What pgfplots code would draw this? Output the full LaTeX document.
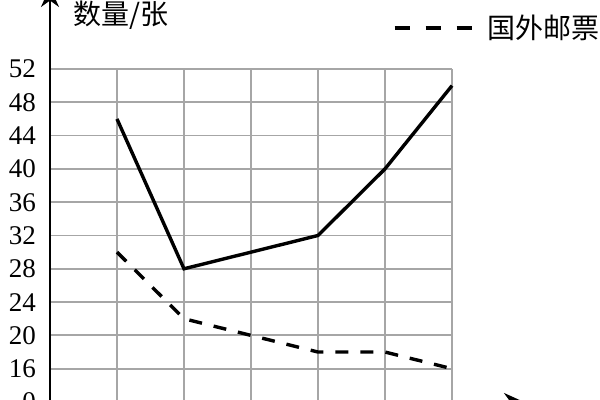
\documentclass[border=0pt]{standalone}
\usepackage{pgfplots}
\pgfplotsset{compat=1.18}
\usepackage{fontspec}
\setmainfont{Liberation Serif}
\newfontfamily\cjk{Noto Sans CJK SC}
\usetikzlibrary{arrows.meta}

\begin{document}
\begin{tikzpicture}
\begin{axis}[
  scale only axis,
  width=201pt, height=166.5pt,
  xmin=0, xmax=6, ymin=12, ymax=52,
  axis x line*=bottom,
  axis y line*=left,
  x axis line style={line width=1.2pt, -{Stealth[length=10pt,width=9pt]}, shorten >=-36pt},
  y axis line style={line width=1.2pt, -{Stealth[length=10pt,width=9pt]}, shorten >=-41pt},
  xtick={1,2,3,4,5,6},
  xticklabels={},
  ytick={12,16,20,24,28,32,36,40,44,48,52},
  yticklabels={0,16,20,24,28,32,36,40,44,48,52},
  major tick length=0pt,
  grid=major,
  grid style={gray!70, line width=0.9pt},
  /pgf/number format/assume math mode=true,
  tick label style={font=\fontsize{13.5pt}{15pt}\selectfont},
  yticklabel style={anchor=east, xshift=-3.5pt},
  ylabel={\cjk 数量/张},
  ylabel style={rotate=-90, at={(axis description cs:0.1766,1.162)}, anchor=center, font=\fontsize{14pt}{16pt}\selectfont},
  legend style={draw=none, fill=none, inner sep=0pt, outer sep=0pt,
    at={(axis description cs:0.853,1.123)}, anchor=west,
    font=\fontsize{14pt}{16pt}\selectfont\cjk,
    /tikz/every odd column/.append style={column sep=5pt}},
  legend image code/.code={\draw[#1, dash pattern=on 7.5pt off 8pt] (0pt,0pt) -- (38.5pt,0pt);},
  clip=false,
]
\addplot[black, line width=1.7pt, forget plot] coordinates {
(1,46) (2,28) (3,30) (4,32) (5,40) (6,50)
};
\addplot[black, line width=1.7pt, dash pattern=on 6.5pt off 6pt] coordinates {
(1,30) (2,22) (3,20) (4,18) (5,18) (6,16)
};
\addlegendentry{国外邮票}
\end{axis}
\pgfresetboundingbox
\path[use as bounding box] (-25pt,1pt) rectangle (275pt,201pt);
\end{tikzpicture}
\end{document}
